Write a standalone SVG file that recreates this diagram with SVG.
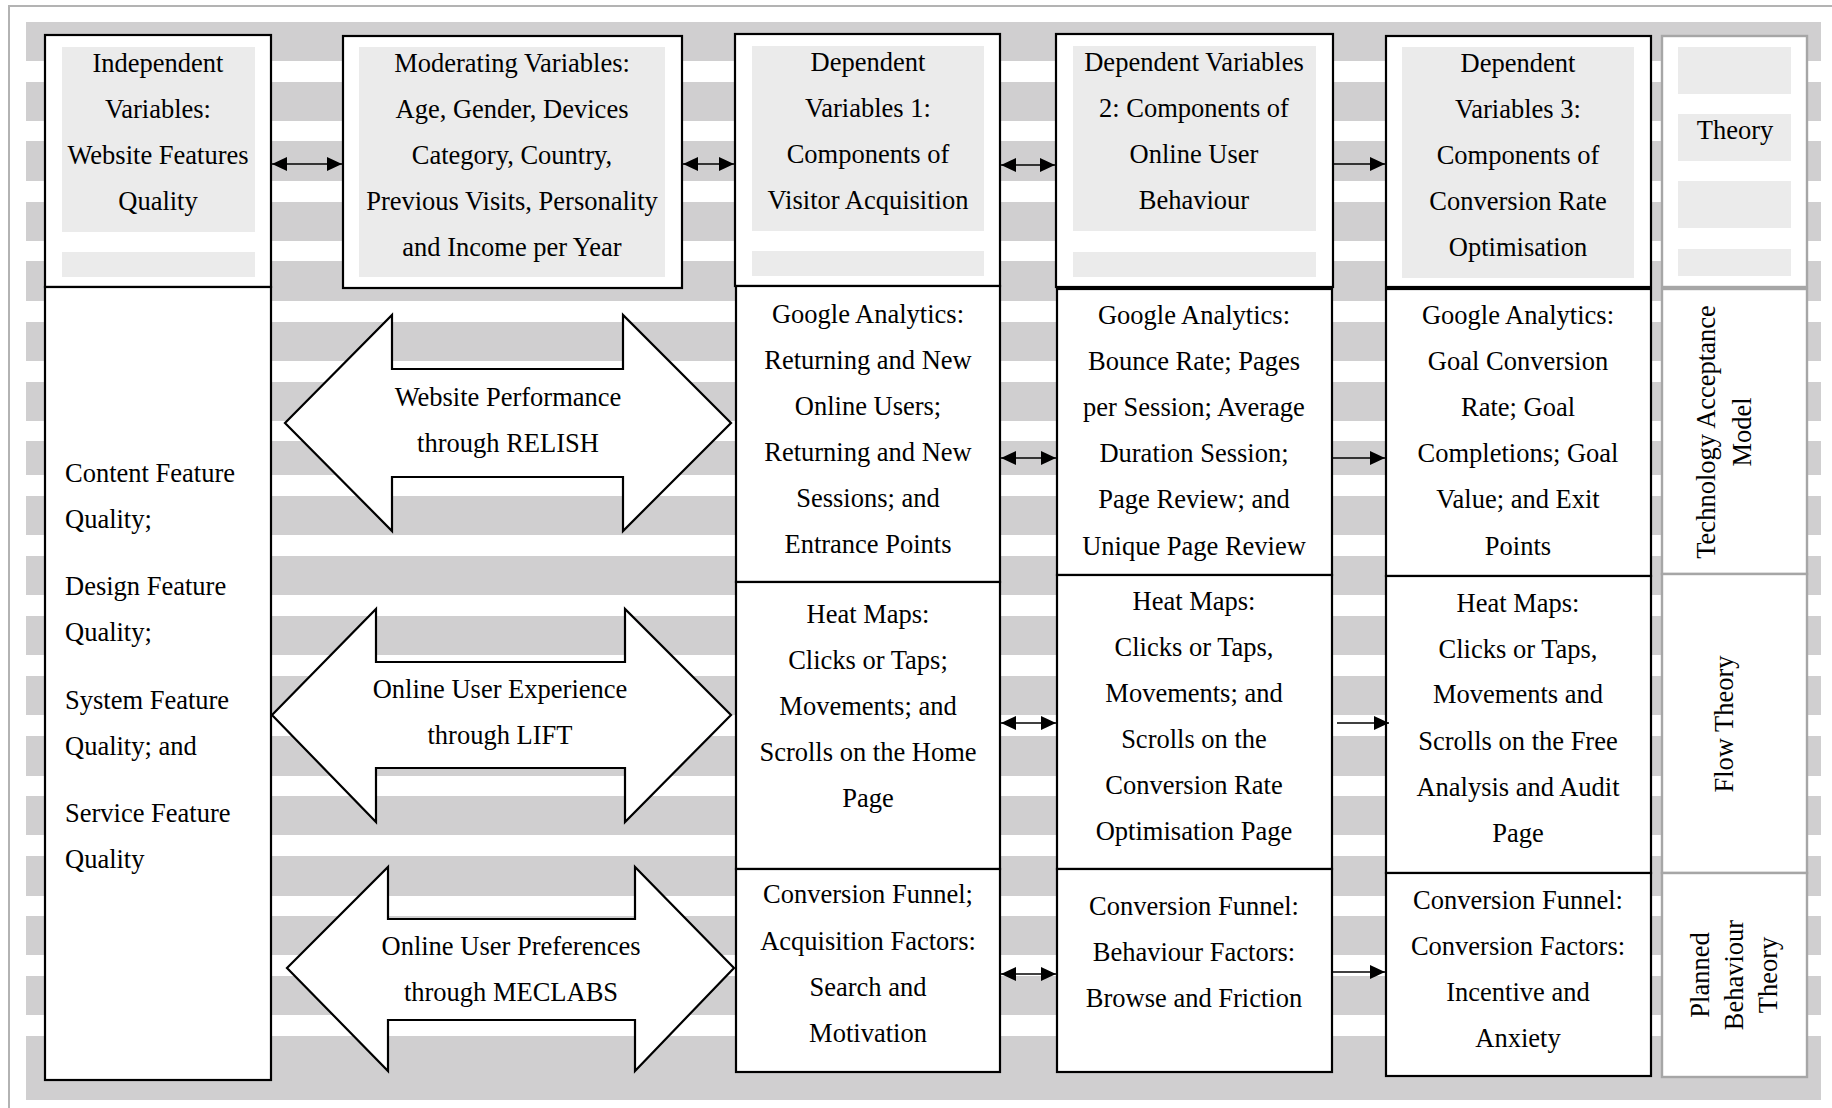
<svg xmlns="http://www.w3.org/2000/svg" width="1832" height="1108" viewBox="0 0 1832 1108">
<defs>
<style>
.bg{fill:#ffffff}
.st{fill:#d0cfd0}
.frame{fill:none;stroke:#b3b3b3;stroke-width:2}
.box{fill:#ffffff;stroke:#000000;stroke-width:2.2}
.tbox{fill:#ffffff;stroke:#a6a6a6;stroke-width:2.4}
.in{fill:#ebebeb}
.blk{fill:#ffffff;stroke:#000000;stroke-width:2.2;stroke-linejoin:miter}
.t{font-family:"Liberation Serif","Times New Roman",serif;font-size:26.5px;fill:#000000;text-anchor:middle}
.tl{font-family:"Liberation Serif","Times New Roman",serif;font-size:26.5px;fill:#000000;text-anchor:start}
.ln{stroke:#000000;stroke-width:1.6;fill:none}
</style>
<marker id="ah" viewBox="0 0 15 14" refX="15" refY="7" markerWidth="15" markerHeight="14" markerUnits="userSpaceOnUse" orient="auto-start-reverse">
<path d="M0,0 L15,7 L0,14 Z" fill="#000000"/>
</marker>
</defs>
<rect class="bg" x="0" y="0" width="1832" height="1108"/>
<path class="frame" d="M9,1108 L9,6 L1832,6"/>
<g id="stripes">
<rect class="st" x="26" y="22" width="1795" height="39"/>
<rect class="st" x="26" y="82" width="1795" height="39"/>
<rect class="st" x="26" y="141" width="1795" height="40"/>
<rect class="st" x="26" y="202" width="1795" height="39"/>
<rect class="st" x="26" y="261" width="1795" height="40"/>
<rect class="st" x="26" y="322" width="1795" height="39"/>
<rect class="st" x="26" y="382" width="1795" height="39"/>
<rect class="st" x="26" y="441" width="1795" height="34"/>
<rect class="st" x="26" y="496" width="1795" height="39"/>
<rect class="st" x="26" y="556" width="1795" height="39"/>
<rect class="st" x="26" y="616" width="1795" height="39"/>
<rect class="st" x="26" y="676" width="1795" height="39"/>
<rect class="st" x="26" y="736" width="1795" height="40"/>
<rect class="st" x="26" y="796" width="1795" height="39"/>
<rect class="st" x="26" y="856" width="1795" height="40"/>
<rect class="st" x="26" y="916" width="1795" height="39"/>
<rect class="st" x="26" y="976" width="1795" height="39"/>
<rect class="st" x="26" y="1036" width="1795" height="64"/>
</g>

<g id="independent-header">
<rect class="box" x="45" y="35" width="226" height="252"/>
<rect class="in" x="62" y="47" width="193" height="185"/>
<rect class="in" x="62" y="252" width="193" height="25"/>
<text class="t" x="158" y="72">Independent</text>
<text class="t" x="158" y="118">Variables:</text>
<text class="t" x="158" y="164">Website Features</text>
<text class="t" x="158" y="210">Quality</text>
</g>
<g id="independent-features">
<rect class="box" x="45" y="287" width="226" height="793"/>
<text class="tl" x="65" y="482">Content Feature</text>
<text class="tl" x="65" y="528">Quality;</text>
<text class="tl" x="65" y="595">Design Feature</text>
<text class="tl" x="65" y="641">Quality;</text>
<text class="tl" x="65" y="709">System Feature</text>
<text class="tl" x="65" y="755">Quality; and</text>
<text class="tl" x="65" y="822">Service Feature</text>
<text class="tl" x="65" y="868">Quality</text>
</g>
<g id="moderating">
<rect class="box" x="343" y="36" width="339" height="252"/>
<rect class="in" x="359" y="47" width="306" height="230"/>
<text class="t" x="512" y="72">Moderating Variables:</text>
<text class="t" x="512" y="118">Age, Gender, Devices</text>
<text class="t" x="512" y="164">Category, Country,</text>
<text class="t" x="512" y="210">Previous Visits, Personality</text>
<text class="t" x="512" y="256">and Income per Year</text>
</g>

<g id="arrow-relish">
<polygon class="blk" points="285,423 392,315 392,369 623,369 623,315 731,423 623,531 623,477 392,477 392,531"/>
<text class="t" x="508" y="406">Website Performance</text>
<text class="t" x="508" y="452">through RELISH</text>
</g>
<g id="arrow-lift">
<polygon class="blk" points="272,715 376,609 376,662 625,662 625,609 731,715 625,822 625,768 376,768 376,822"/>
<text class="t" x="500" y="698">Online User Experience</text>
<text class="t" x="500" y="744">through LIFT</text>
</g>
<g id="arrow-meclabs">
<polygon class="blk" points="287,968 388,867 388,919 635,919 635,867 734,968 635,1071 635,1020 388,1020 388,1071"/>
<text class="t" x="511" y="955">Online User Preferences</text>
<text class="t" x="511" y="1001">through MECLABS</text>
</g>

<g id="dv1-header">
<rect class="box" x="735" y="34" width="265" height="252"/>
<rect class="in" x="752" y="46" width="232" height="185"/>
<rect class="in" x="752" y="251" width="232" height="25"/>
<text class="t" x="868" y="71">Dependent</text>
<text class="t" x="868" y="117">Variables 1:</text>
<text class="t" x="868" y="163">Components of</text>
<text class="t" x="868" y="209">Visitor Acquisition</text>
</g>
<g id="dv1-ga">
<rect class="box" x="736" y="286" width="264" height="296"/>
<text class="t" x="868" y="323">Google Analytics:</text>
<text class="t" x="868" y="369">Returning and New</text>
<text class="t" x="868" y="415">Online Users;</text>
<text class="t" x="868" y="461">Returning and New</text>
<text class="t" x="868" y="507">Sessions; and</text>
<text class="t" x="868" y="553">Entrance Points</text>
</g>
<g id="dv1-hm">
<rect class="box" x="736" y="582" width="264" height="287"/>
<text class="t" x="868" y="623">Heat Maps:</text>
<text class="t" x="868" y="669">Clicks or Taps;</text>
<text class="t" x="868" y="715">Movements; and</text>
<text class="t" x="868" y="761">Scrolls on the Home</text>
<text class="t" x="868" y="807">Page</text>
</g>
<g id="dv1-cf">
<rect class="box" x="736" y="869" width="264" height="203"/>
<text class="t" x="868" y="903">Conversion Funnel;</text>
<text class="t" x="868" y="950">Acquisition Factors:</text>
<text class="t" x="868" y="996">Search and</text>
<text class="t" x="868" y="1042">Motivation</text>
</g>

<g id="dv2-header">
<rect class="box" x="1056" y="34" width="277" height="253"/>
<rect class="in" x="1073" y="46" width="243" height="185"/>
<rect class="in" x="1073" y="252" width="243" height="25"/>
<text class="t" x="1194" y="71">Dependent Variables</text>
<text class="t" x="1194" y="117">2: Components of</text>
<text class="t" x="1194" y="163">Online User</text>
<text class="t" x="1194" y="209">Behaviour</text>
</g>
<g id="dv2-ga">
<rect class="box" x="1057" y="289" width="275" height="286"/>
<text class="t" x="1194" y="324">Google Analytics:</text>
<text class="t" x="1194" y="370">Bounce Rate; Pages</text>
<text class="t" x="1194" y="416">per Session; Average</text>
<text class="t" x="1194" y="462">Duration Session;</text>
<text class="t" x="1194" y="508">Page Review; and</text>
<text class="t" x="1194" y="555">Unique Page Review</text>
</g>
<g id="dv2-hm">
<rect class="box" x="1057" y="575" width="275" height="294"/>
<text class="t" x="1194" y="610">Heat Maps:</text>
<text class="t" x="1194" y="656">Clicks or Taps,</text>
<text class="t" x="1194" y="702">Movements; and</text>
<text class="t" x="1194" y="748">Scrolls on the</text>
<text class="t" x="1194" y="794">Conversion Rate</text>
<text class="t" x="1194" y="840">Optimisation Page</text>
</g>
<g id="dv2-cf">
<rect class="box" x="1057" y="869" width="275" height="203"/>
<text class="t" x="1194" y="915">Conversion Funnel:</text>
<text class="t" x="1194" y="961">Behaviour Factors:</text>
<text class="t" x="1194" y="1007">Browse and Friction</text>
</g>

<g id="dv3-header">
<rect class="box" x="1386" y="36" width="265" height="251"/>
<rect class="in" x="1402" y="47" width="232" height="231"/>
<text class="t" x="1518" y="72">Dependent</text>
<text class="t" x="1518" y="118">Variables 3:</text>
<text class="t" x="1518" y="164">Components of</text>
<text class="t" x="1518" y="210">Conversion Rate</text>
<text class="t" x="1518" y="256">Optimisation</text>
</g>
<g id="dv3-ga">
<rect class="box" x="1386" y="289" width="265" height="287"/>
<text class="t" x="1518" y="324">Google Analytics:</text>
<text class="t" x="1518" y="370">Goal Conversion</text>
<text class="t" x="1518" y="416">Rate; Goal</text>
<text class="t" x="1518" y="462">Completions; Goal</text>
<text class="t" x="1518" y="508">Value; and Exit</text>
<text class="t" x="1518" y="555">Points</text>
</g>
<g id="dv3-hm">
<rect class="box" x="1386" y="576" width="265" height="297"/>
<text class="t" x="1518" y="612">Heat Maps:</text>
<text class="t" x="1518" y="658">Clicks or Taps,</text>
<text class="t" x="1518" y="703">Movements and</text>
<text class="t" x="1518" y="750">Scrolls on the Free</text>
<text class="t" x="1518" y="796">Analysis and Audit</text>
<text class="t" x="1518" y="842">Page</text>
</g>
<g id="dv3-cf">
<rect class="box" x="1386" y="873" width="265" height="203"/>
<text class="t" x="1518" y="909">Conversion Funnel:</text>
<text class="t" x="1518" y="955">Conversion Factors:</text>
<text class="t" x="1518" y="1001">Incentive and</text>
<text class="t" x="1518" y="1047">Anxiety</text>
</g>

<g id="theory-header">
<rect class="tbox" x="1662" y="36" width="145" height="251"/>
<rect class="in" x="1678" y="47" width="113" height="47"/>
<rect class="in" x="1678" y="114" width="113" height="47"/>
<rect class="in" x="1678" y="181" width="113" height="47"/>
<rect class="in" x="1678" y="249" width="113" height="27"/>
<text class="t" x="1735" y="139">Theory</text>
</g>
<g id="theory-tam">
<rect class="tbox" x="1662" y="289" width="145" height="285"/>
<text class="t" transform="translate(1715,432) rotate(-90)" x="0" y="0">Technology Acceptance</text>
<text class="t" transform="translate(1715,432) rotate(-90)" x="0" y="36">Model</text>
</g>
<g id="theory-flow">
<rect class="tbox" x="1662" y="574" width="145" height="299"/>
<text class="t" transform="translate(1733,724) rotate(-90)" x="0" y="0">Flow Theory</text>
</g>
<g id="theory-planned">
<rect class="tbox" x="1662" y="873" width="145" height="204"/>
<text class="t" transform="translate(1709,975) rotate(-90)" x="0" y="0">Planned</text>
<text class="t" transform="translate(1709,975) rotate(-90)" x="0" y="34">Behaviour</text>
<text class="t" transform="translate(1709,975) rotate(-90)" x="0" y="68">Theory</text>
</g>

<g id="connectors">
<line class="ln" x1="272" y1="164" x2="342" y2="164" marker-start="url(#ah)" marker-end="url(#ah)"/>
<line class="ln" x1="683" y1="164" x2="734" y2="164" marker-start="url(#ah)" marker-end="url(#ah)"/>
<line class="ln" x1="1001" y1="165" x2="1055" y2="165" marker-start="url(#ah)" marker-end="url(#ah)"/>
<line class="ln" x1="1334" y1="164" x2="1385" y2="164" marker-end="url(#ah)"/>
<line class="ln" x1="1001" y1="458" x2="1056" y2="458" marker-start="url(#ah)" marker-end="url(#ah)"/>
<line class="ln" x1="1333" y1="458" x2="1385" y2="458" marker-end="url(#ah)"/>
<line class="ln" x1="1001" y1="723" x2="1056" y2="723" marker-start="url(#ah)" marker-end="url(#ah)"/>
<line class="ln" x1="1337" y1="723" x2="1389" y2="723" marker-end="url(#ah)"/>
<line class="ln" x1="1001" y1="974" x2="1056" y2="974" marker-start="url(#ah)" marker-end="url(#ah)"/>
<line class="ln" x1="1333" y1="972" x2="1385" y2="972" marker-end="url(#ah)"/>
</g>
</svg>
